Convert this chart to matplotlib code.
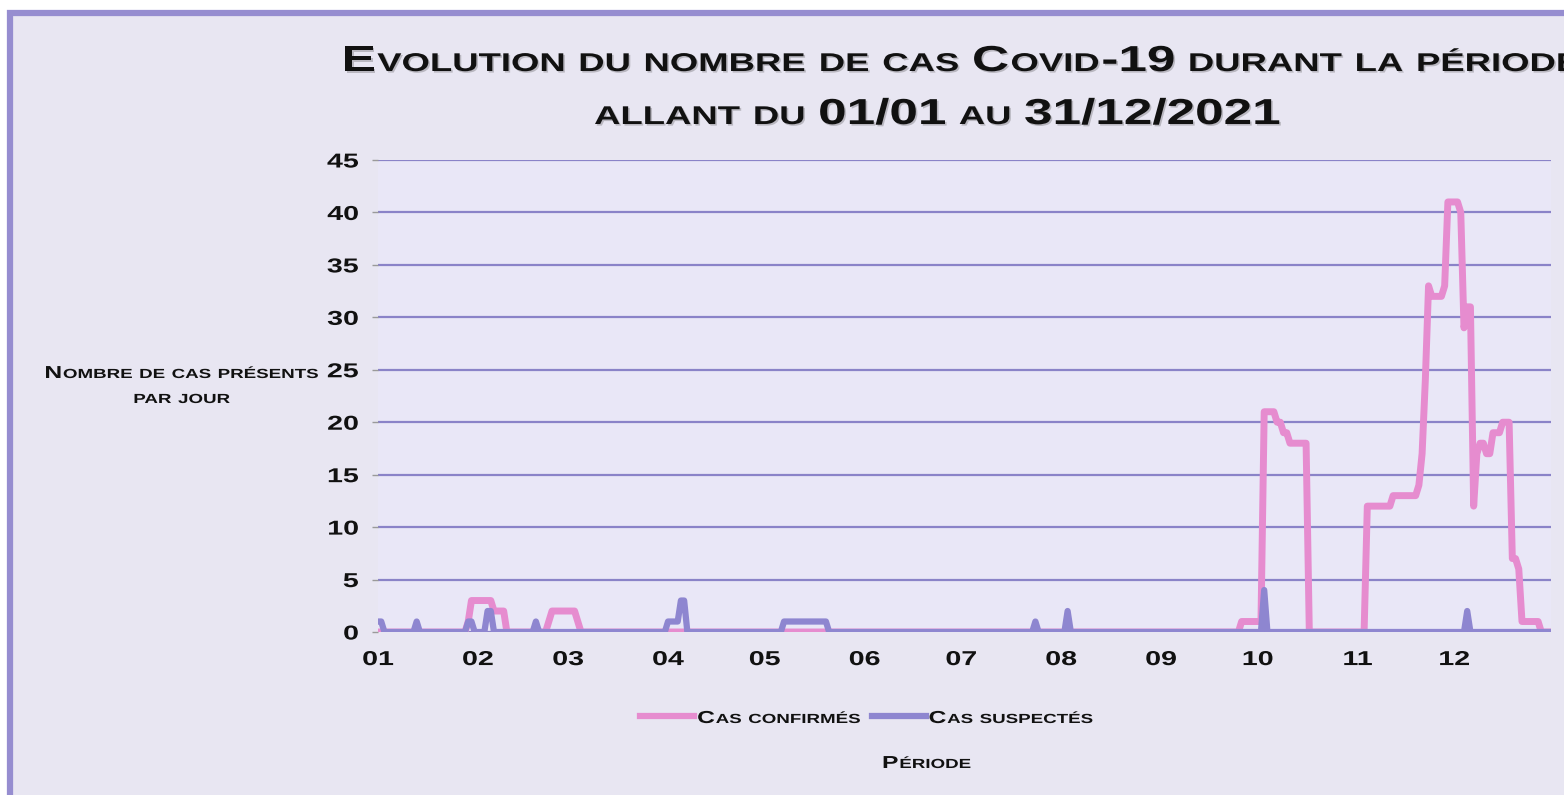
import numpy as np
import matplotlib
matplotlib.use("Agg")
import matplotlib.pyplot as plt
from matplotlib.lines import Line2D
from matplotlib.patches import Rectangle
from matplotlib.transforms import Affine2D
import matplotlib.patheffects as pe

# ---------------- data ----------------
N_DAYS = 365
month_tick_days = [0, 31, 59, 90, 120, 151, 181, 212, 243, 273, 304, 334]
month_labels = ["01", "02", "03", "04", "05", "06", "07", "08", "09", "10", "11", "12"]
y_ticks = [0, 5, 10, 15, 20, 25, 30, 35, 40, 45]

# Cas confirmés : non-zero days (day index from 01/01) and their values
confirmed_days = [28, 29, 30, 31, 32, 33, 34, 35, 36, 37, 38, 39,
                  53, 54, 55, 56, 57, 58, 59, 60, 61, 62,
                  268, 269, 270, 271, 272, 273, 274,
                  275, 276, 277, 278, 279, 280, 281, 282, 283, 284, 285, 286, 287, 288,
                  307, 308, 309, 310, 311, 312, 313, 314,
                  315, 316, 317, 318, 319, 320, 321, 322, 323,
                  324, 325, 326, 327, 328, 329, 330, 331,
                  332, 333, 334, 335, 336, 337, 338, 339, 340,
                  341, 342, 343, 344, 345, 346, 347, 348, 349, 350, 351,
                  352, 353, 354, 355, 356, 357, 358, 359, 360]
confirmed_vals = [1, 3, 3, 3, 3, 3, 3, 3, 2, 2, 2, 2,
                  1, 2, 2, 2, 2, 2, 2, 2, 2, 1,
                  1, 1, 1, 1, 1, 1, 1,
                  21, 21, 21, 21, 20, 20, 19, 19, 18, 18, 18, 18, 18, 18,
                  12, 12, 12, 12, 12, 12, 12, 12,
                  13, 13, 13, 13, 13, 13, 13, 13, 14,
                  17, 24, 33, 32, 32, 32, 32, 33,
                  41, 41, 41, 41, 40, 29, 31, 31, 12,
                  17, 18, 18, 17, 17, 19, 19, 19, 20, 20, 20,
                  7, 7, 6, 1, 1, 1, 1, 1, 1]

# Cas suspectés : non-zero days and their values
suspected_days = [0, 1, 12, 28, 29, 34, 35, 49,
                  90, 91, 92, 93, 94, 95,
                  126, 127, 128, 129, 130, 131, 132, 133, 134, 135, 136, 137, 138, 139,
                  204, 214, 275, 338]
suspected_vals = [1, 1, 1, 1, 1, 2, 2, 1,
                  1, 1, 1, 1, 3, 3,
                  1, 1, 1, 1, 1, 1, 1, 1, 1, 1, 1, 1, 1, 1,
                  1, 2, 4, 2]

series_labels = ["Cas confirmés", "Cas suspectés"]
title_lines = ["Evolution du nombre de cas Covid-19 durant la période",
               "allant du 01/01 au 31/12/2021"]
ylabel_lines = ["Nombre de cas présents", "par jour"]
xlabel = "Période"

confirmed = np.zeros(N_DAYS)
confirmed[confirmed_days] = confirmed_vals
suspected = np.zeros(N_DAYS)
suspected[suspected_days] = suspected_vals
days = np.arange(N_DAYS)

# ---------------- style ----------------
FONT = "Liberation Sans"
PINK = "#e68ccf"
PURPLE = "#8e86d0"
GRID = "#8a83c8"
BG = "#e8e6f2"
AX_BG = "#e9e7f7"
FRAME = "#968dd0"
TXT = "#111111"
SX = 1.42  # horizontal stretch of the lettering in the reference

W, H = 1564, 795
fig = plt.figure(figsize=(W / 100, H / 100), dpi=100, facecolor="white")


class HStretch(pe.AbstractPathEffect):
    """Draw text glyphs stretched horizontally (text stays a Text artist)."""

    def __init__(self, sx=SX, anchor="left", shadow=False):
        super().__init__()
        self.sx, self.anchor, self.shadow = sx, anchor, shadow

    def draw_path(self, renderer, gc, tpath, affine, rgbFace=None):
        if self.anchor == "left":
            cx = 0.0
        else:
            ext = tpath.get_extents()
            cx = (ext.x0 + ext.x1) / 2 if self.anchor == "center" else ext.x1
        aff = Affine2D().translate(-cx, 0).scale(self.sx, 1).translate(cx, 0) + affine
        if self.shadow:
            gc0 = renderer.new_gc()
            gc0.copy_properties(gc)
            gc0.set_alpha(0.3)
            renderer.draw_path(gc0, tpath, aff + Affine2D().translate(1.6, -1.6), (0.3, 0.3, 0.3))
            gc0.restore()
        renderer.draw_path(gc, tpath, aff, rgbFace)


# outer frame (left and top borders visible)
fig.add_artist(Rectangle((10 / W, -0.05), 1.2, (H - 13) / H + 0.05,
                         transform=fig.transFigure, facecolor=BG,
                         edgecolor=FRAME, linewidth=4.5, zorder=0))

ax = fig.add_axes([378 / W, (H - 632) / H, (1551 - 378) / W, (632 - 160) / H])
ax.set_facecolor(AX_BG)
for s in ax.spines.values():
    s.set_visible(False)

ax.plot(days, confirmed, color=PINK, lw=5, solid_joinstyle="round",
        solid_capstyle="round", zorder=3, label=series_labels[0])
ax.plot(days, suspected, color=PURPLE, lw=4.5, solid_joinstyle="round",
        solid_capstyle="round", zorder=4, label=series_labels[1])

ax.set_xlim(0, N_DAYS - 1)
ax.set_ylim(0, 45)
ax.set_yticks(y_ticks)
ax.set_xticks(month_tick_days)
ax.set_xticklabels(month_labels)
ax.yaxis.grid(True, color=GRID, lw=1.6, zorder=1)
ax.set_axisbelow(True)
ax.tick_params(axis="y", length=4, width=1, color="#9a9a9a", pad=10)
ax.tick_params(axis="x", length=0, pad=13)
for lab in ax.get_yticklabels():
    lab.set_path_effects([HStretch(SX, "right")])
for lab in ax.get_xticklabels():
    lab.set_path_effects([HStretch(SX, "center")])
for lab in ax.get_xticklabels() + ax.get_yticklabels():
    lab.set_fontfamily(FONT)
    lab.set_fontweight("bold")
    lab.set_fontsize(14.5)
    lab.set_color(TXT)

renderer = fig.canvas.get_renderer()


def runs_of(word):
    runs, cur, cur_big = [], "", None
    for ch in word:
        is_big = not ch.islower()
        if cur and is_big != cur_big:
            runs.append((cur, cur_big))
            cur = ""
        cur += ch if is_big else ch.upper()
        cur_big = is_big
    if cur:
        runs.append((cur, cur_big))
    return runs


def sc_text(text, ybase, big, small, shadow=False, space=0.3):
    """Small-caps text laid out at x=0; returns (texts_with_widths, gap, total width px)."""
    words = []
    for word in text.split(" "):
        wl = []
        for s, b in runs_of(word):
            t = fig.text(0, 1 - ybase / H, s, fontsize=big if b else small,
                         fontweight="bold", family=FONT, color=TXT,
                         ha="left", va="baseline",
                         path_effects=[HStretch(SX, "left", shadow)])
            w = t.get_window_extent(renderer).width * SX + 0.06 * small * SX
            wl.append((t, w))
        words.append(wl)
    gap = space * small * 100 / 72 * SX
    total = sum(w for wl in words for _, w in wl) + gap * (len(words) - 1)
    return words, gap, total


def place_sc(words, gap, x0):
    x = x0
    for wl in words:
        for t, w in wl:
            t.set_x(x / W)
            x += w
        x += gap
    return x


def sc_center(text, xc, ybase, big, small, shadow=False):
    words, gap, total = sc_text(text, ybase, big, small, shadow)
    place_sc(words, gap, xc - total / 2)


# title
sc_center(title_lines[0], 962, 71, 26, 18.5, shadow=True)
sc_center(title_lines[1], 938, 124, 26, 18.5, shadow=True)

# y axis title
sc_center(ylabel_lines[0], 182, 378, 12.5, 9.5)
sc_center(ylabel_lines[1], 182, 403, 12.5, 9.5)

# legend (manual, to keep small-caps lettering)
w1, g1, t1 = sc_text(series_labels[0], 723, 12.5, 9.5)
w2, g2, t2 = sc_text(series_labels[1], 723, 12.5, 9.5)
seg = 54
total = seg + 3 + t1 + 10 + seg + 3 + t2
x = 867 - total / 2
y_leg = 1 - 716 / H
fig.add_artist(Line2D([x / W, (x + seg) / W], [y_leg, y_leg], color=PINK, lw=4.5,
                      transform=fig.transFigure))
x = place_sc(w1, g1, x + seg + 3) - g1 + 10
fig.add_artist(Line2D([x / W, (x + seg) / W], [y_leg, y_leg], color=PURPLE, lw=4.5,
                      transform=fig.transFigure))
place_sc(w2, g2, x + seg + 3)

# x axis title
sc_center(xlabel, 927, 768, 12.5, 9.5)

fig.savefig("out.png", dpi=100, facecolor=fig.get_facecolor())
